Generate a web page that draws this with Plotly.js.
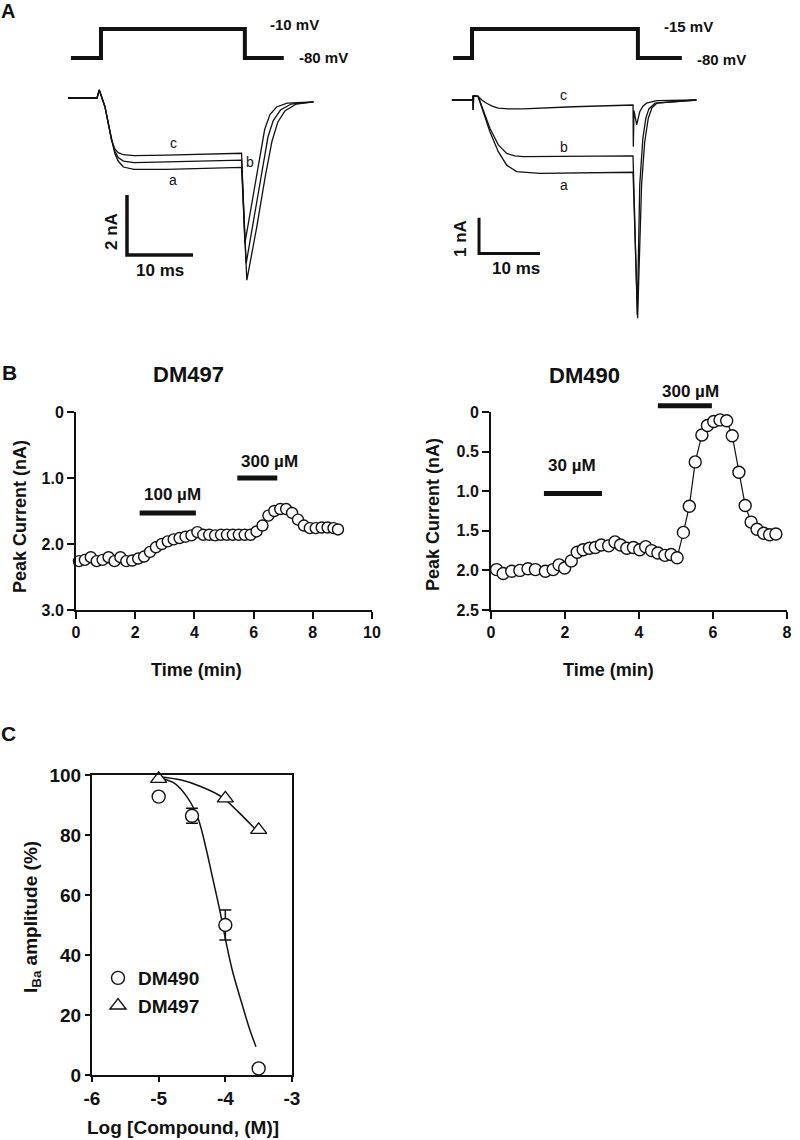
<!DOCTYPE html>
<html>
<head>
<meta charset="utf-8">
<script src="https://cdn.plot.ly/plotly-3.0.1.min.js"></script>
<style>
  html, body { margin: 0; padding: 0; background: #fff; }
  #fig { width: 800px; height: 1140px; }
</style>
</head>
<body>
<div id="fig"></div>
<script>
/* Ba2+ current recordings (A), time courses (B) and concentration-response (C). */

// ---- Panel A: voltage protocols (ms, mV)
const stepLeftT = [-4.55, 0, 0, 21.8, 21.8, 27.7];
const stepLeftV = [-80, -80, -10, -10, -80, -80];
const stepRightT = [-3.1, 0, 0, 27.2, 27.2, 34.4];
const stepRightV = [-80, -80, -15, -15, -80, -80];

// ---- Panel A, left: current traces a, b, c (ms, nA)
const leftA_T = [-5.0, -0.6, -0.26, 0.1, 0.6, 1.1, 1.6, 2.1, 2.6, 3.4, 5, 10, 21.3, 22.1, 23.6, 24.9, 25.9, 26.8, 27.9, 29.6, 32.2];
const leftA_I = [0, 0, 0.27, 0.04, -0.29, -0.84, -1.4, -1.85, -2.1, -2.3, -2.38, -2.38, -2.31, -6.07, -4.3, -2.6, -1.45, -0.8, -0.42, -0.2, -0.13];
const leftB_T = [-5.0, -0.6, -0.26, 0.1, 0.6, 1.1, 1.6, 2.1, 2.6, 3.4, 5, 10, 21.3, 22.0, 23.3, 24.4, 25.3, 26.1, 27.2, 28.8, 32.2];
const leftB_I = [0, 0, 0.27, 0.04, -0.29, -0.84, -1.4, -1.78, -1.98, -2.1, -2.15, -2.13, -2.07, -5.51, -3.8, -2.35, -1.3, -0.75, -0.4, -0.2, -0.13];
const leftC_T = [-5.0, -0.6, -0.26, 0.1, 0.6, 1.1, 1.6, 2.1, 2.6, 3.4, 5, 10, 21.3, 21.8, 23.0, 24.0, 24.8, 25.6, 26.6, 28.2, 32.2];
const leftC_I = [0, 0, 0.27, 0.04, -0.29, -0.84, -1.4, -1.7, -1.82, -1.89, -1.92, -1.9, -1.84, -4.84, -3.3, -1.95, -1.05, -0.55, -0.3, -0.17, -0.13];

// ---- Panel A, right
const rightA_T = [-3.3, 0.1, 0.15, 0.2, 0.25, 1.0, 1.85, 2.95, 4.31, 5.69, 7.3, 11.1, 26.4, 27.15, 27.8, 28.3, 28.9, 29.5, 30.3, 36.8];
const rightA_I = [0, 0, 0.12, -0.28, 0.12, 0.1, -0.33, -0.9, -1.45, -1.83, -2.01, -2.06, -2.03, -6.13, -2.39, -1.2, -0.51, -0.22, -0.09, 0];
const rightB_T = [-3.3, 0.1, 0.15, 0.2, 0.25, 1.0, 1.85, 2.95, 4.31, 5.69, 7.0, 8.4, 26.4, 27.1, 27.5, 28.0, 28.5, 29.0, 30.0, 36.8];
const rightB_I = [0, 0, 0.12, -0.28, 0.12, 0.1, -0.28, -0.8, -1.26, -1.5, -1.57, -1.59, -1.57, -6.04, -2.39, -1.1, -0.51, -0.25, -0.09, 0];
const rightC_T = [-3.3, 0.1, 0.15, 0.2, 0.25, 1.0, 1.6, 2.4, 3.3, 4.3, 6.0, 8.4, 16.6, 26.4, 26.45, 26.55, 27.0, 27.5, 28.0, 28.6, 30.3, 36.8];
const rightC_I = [0, 0, 0.12, -0.28, 0.12, 0.1, 0.0, -0.09, -0.17, -0.23, -0.25, -0.25, -0.19, -0.14, -1.31, -0.3, -0.7, -0.33, -0.18, -0.09, -0.02, 0];

// scale bars: 10 ms / 2 nA (left), 10 ms / 1 nA (right)
const scaleLeftT = [3.94, 3.94, 13.94];
const scaleLeftI = [-3.23, -5.23, -5.23];
const scaleRightT = [1.15, 1.15, 11.15];
const scaleRightI = [-3.31, -4.31, -4.31];

const traceNames = ['c', 'b', 'a'];
const leftLabelT = [10.95, 22.6, 10.95];
const leftLabelI = [-1.51, -2.12, -2.73];
const rightLabelT = [15.0, 15.0, 15.0];
const rightLabelI = [0.14, -1.31, -2.39];

// ---- Panel B: peak current vs time (min, nA)
const dm497Time = [0.1, 0.3, 0.5, 0.7, 0.9, 1.1, 1.3, 1.5, 1.7, 1.9, 2.1, 2.3, 2.5, 2.7, 2.9, 3.1, 3.3, 3.5, 3.7, 3.9,
  4.1, 4.3, 4.5, 4.7, 4.9, 5.1, 5.3, 5.5, 5.7, 5.9, 6.1, 6.3, 6.5, 6.7, 6.9, 7.1, 7.3, 7.5, 7.7, 7.9, 8.1, 8.3, 8.5, 8.7, 8.85];
const dm497Peak = [2.26, 2.24, 2.2, 2.26, 2.24, 2.2, 2.26, 2.2, 2.26, 2.25, 2.22, 2.19, 2.12, 2.05, 2.0, 1.96, 1.93, 1.91, 1.89, 1.87,
  1.82, 1.86, 1.86, 1.87, 1.86, 1.86, 1.86, 1.86, 1.86, 1.86, 1.81, 1.72, 1.57, 1.5, 1.47, 1.47, 1.53, 1.63, 1.72, 1.76, 1.76, 1.75, 1.75, 1.76, 1.78];
const dm497BarStart = [2.15, 5.45];
const dm497BarEnd = [4.05, 6.8];
const dm497BarLevel = [1.53, 1.0];
const dm497Dose = ['100 µM', '300 µM'];

const dm490Time = [0.15, 0.33, 0.56, 0.78, 1.0, 1.2, 1.47, 1.68, 1.84, 1.99, 2.17, 2.33, 2.49, 2.66, 2.82, 2.98, 3.18, 3.35, 3.5, 3.67,
  3.85, 4.02, 4.18, 4.34, 4.51, 4.7, 4.87, 5.03, 5.2, 5.36, 5.52, 5.7, 5.85, 6.02, 6.19, 6.37, 6.52, 6.7, 6.87, 7.03, 7.19, 7.37, 7.53, 7.7];
const dm490Peak = [1.99, 2.04, 2.01, 2.0, 1.98, 1.99, 2.01, 1.99, 1.93, 1.97, 1.88, 1.77, 1.74, 1.72, 1.71, 1.68, 1.69, 1.64, 1.68, 1.72,
  1.71, 1.74, 1.7, 1.75, 1.78, 1.81, 1.8, 1.84, 1.52, 1.19, 0.63, 0.29, 0.17, 0.12, 0.1, 0.11, 0.3, 0.76, 1.18, 1.39, 1.48, 1.53, 1.55, 1.54];
const dm490BarStart = [1.43, 4.51];
const dm490BarEnd = [3.0, 5.97];
const dm490BarLevel = [1.03, -0.08];
const dm490Dose = ['30 µM', '300 µM'];

// ---- Panel C: concentration-response (log M, %)
const dm490LogConc = [-5, -4.5, -4, -3.5];
const dm490Amp = [92.8, 86.4, 50, 2.2];
const dm490Sem = [0, 2.5, 5, 0];
const dm497LogConc = [-5, -4, -3.5];
const dm497Amp = [98.7, 92.2, 81.7];
const dm490FitX = [-5, -4.76, -4.56, -4.41, -4.29, -4.19, -4.09, -3.99, -3.89, -3.76, -3.64, -3.54];
const dm490FitY = [99.1, 97.2, 92.2, 85.6, 75.6, 65.6, 55.6, 44.4, 34.4, 24.4, 15.6, 9.4];
const dm497FitX = [-5, -4.66, -4.36, -4.06, -3.81, -3.56, -3.5];
const dm497FitY = [99.4, 98.3, 96.1, 92.8, 87.8, 82.2, 80.8];

// ------------------------------------------------------------------
const FONT = 'Liberation Sans, Arial, Helvetica, sans-serif';
const INK = '#111111';
const W = 800, H = 1140;
const fx = (p) => p / W;
const fy = (p) => 1 - p / H;
const domX = (a, b) => [fx(a), fx(b)];
const domY = (top, bottom) => [fy(bottom), fy(top)];

const line = (x, y, xa, ya, width) => ({
  x, y, xaxis: xa, yaxis: ya, type: 'scatter', mode: 'lines', showlegend: false,
  hoverinfo: 'skip', line: { color: INK, width },
});

const traces = [
  line(stepLeftT, stepLeftV, 'x', 'y', 4),
  line(stepRightT, stepRightV, 'x3', 'y3', 4),
  line(leftA_T, leftA_I, 'x2', 'y2', 1.3),
  line(leftB_T, leftB_I, 'x2', 'y2', 1.3),
  line(leftC_T, leftC_I, 'x2', 'y2', 1.3),
  line(rightA_T, rightA_I, 'x4', 'y4', 1.3),
  line(rightB_T, rightB_I, 'x4', 'y4', 1.3),
  line(rightC_T, rightC_I, 'x4', 'y4', 1.3),
  line(scaleLeftT, scaleLeftI, 'x2', 'y2', 3.5),
  line(scaleRightT, scaleRightI, 'x4', 'y4', 3),
];

dm497BarStart.forEach((s, i) => {
  traces.push(line([s, dm497BarEnd[i]], [dm497BarLevel[i], dm497BarLevel[i]], 'x5', 'y9', 5));
});
dm490BarStart.forEach((s, i) => {
  traces.push(line([s, dm490BarEnd[i]], [dm490BarLevel[i], dm490BarLevel[i]], 'x6', 'y10', 5));
});

const openMarker = (size, symbol) => ({
  symbol, size, color: '#ffffff', line: { color: INK, width: 1.4 },
});

traces.push({
  x: dm497Time, y: dm497Peak, xaxis: 'x5', yaxis: 'y5', type: 'scatter', mode: 'markers',
  marker: openMarker(11, 'circle'), cliponaxis: false, showlegend: false, hoverinfo: 'skip',
});
traces.push({
  x: dm490Time, y: dm490Peak, xaxis: 'x6', yaxis: 'y6', type: 'scatter', mode: 'lines+markers',
  line: { color: INK, width: 1.2 }, marker: openMarker(12, 'circle'),
  cliponaxis: false, showlegend: false, hoverinfo: 'skip',
});

// panel C
traces.push(Object.assign(line(dm490FitX, dm490FitY, 'x7', 'y7', 1.5), { line: { color: INK, width: 1.5, shape: 'spline' } }));
traces.push(Object.assign(line(dm497FitX, dm497FitY, 'x7', 'y7', 1.5), { line: { color: INK, width: 1.5, shape: 'spline' } }));
traces.push({
  x: dm490LogConc, y: dm490Amp, xaxis: 'x7', yaxis: 'y7', type: 'scatter', mode: 'markers',
  marker: { size: 2, color: 'rgba(0,0,0,0)' }, showlegend: false, hoverinfo: 'skip',
  error_y: { type: 'data', array: dm490Sem, visible: true, color: INK, thickness: 1.5, width: 6 },
});
traces.push({
  x: dm490LogConc, y: dm490Amp, xaxis: 'x7', yaxis: 'y7', type: 'scatter', mode: 'markers',
  name: 'DM490', marker: openMarker(13, 'circle'), cliponaxis: false, hoverinfo: 'skip',
});
traces.push({
  x: dm497LogConc, y: dm497Amp, xaxis: 'x7', yaxis: 'y7', type: 'scatter', mode: 'markers',
  name: 'DM497', marker: openMarker(14, 'triangle-up'), cliponaxis: false, hoverinfo: 'skip',
});

// ---- axes
const hidden = (extra) => Object.assign({ visible: false, fixedrange: true }, extra);
const tickFont = (size) => ({ family: FONT, size, color: INK, weight: 'bold' });
const shown = (size, extra) => Object.assign({
  showline: true, linewidth: 2, linecolor: INK, ticks: 'outside', ticklen: 7, tickwidth: 2,
  tickcolor: INK, showgrid: false, zeroline: false, fixedrange: true, tickfont: tickFont(size),
}, extra);

// ---- text
const note = (x, y, text, size, extra) => Object.assign({
  x: fx(x), y: fy(y), xref: 'paper', yref: 'paper', text, showarrow: false,
  xanchor: 'center', yanchor: 'middle',
  font: { family: FONT, size, color: INK, weight: 'bold' },
}, extra || {});

const annotations = [
  note(8, 11, 'A', 20),
  note(9, 372, 'B', 21),
  note(8, 733, 'C', 21),
  note(268, 25, '-10 mV', 15, { xanchor: 'left' }),
  note(297, 57, '-80 mV', 15, { xanchor: 'left' }),
  note(662, 27, '-15 mV', 15, { xanchor: 'left' }),
  note(695, 59, '-80 mV', 15, { xanchor: 'left' }),
  note(112, 232, '2 nA', 17, { textangle: -90 }),
  note(160, 271, '10 ms', 17),
  note(461, 239, '1 nA', 17, { textangle: -90 }),
  note(516, 269, '10 ms', 17),
  note(188, 374, 'DM497', 22),
  note(584, 375, 'DM490', 22),
  note(20, 517, 'Peak Current (nA)', 18, { textangle: -90 }),
  note(433, 515, 'Peak Current (nA)', 18, { textangle: -90 }),
  note(196, 670, 'Time (min)', 18),
  note(608, 670, 'Time (min)', 18),
  note(183, 1127, 'Log [Compound, (M)]', 19),
  note(32, 917, 'I<sub>Ba</sub> amplitude (%)', 19, { textangle: -90 }),
];

const traceLabel = (x, y, text, xa, ya) => ({
  x, y, xref: xa, yref: ya, text, showarrow: false, xanchor: 'center', yanchor: 'middle',
  font: { family: FONT, size: 14, color: INK, weight: 'normal' },
});
traceNames.forEach((n, i) => {
  annotations.push(traceLabel(leftLabelT[i], leftLabelI[i], n, 'x2', 'y2'));
  annotations.push(traceLabel(rightLabelT[i], rightLabelI[i], n, 'x4', 'y4'));
});

const doseLift497 = [18, 17];
const doseLift490 = [28, 14];
const doseLabel = (x, y, text, xa, ya, lift) => ({
  x, y, xref: xa, yref: ya, text, showarrow: false, xanchor: 'left', yanchor: 'middle',
  xshift: 2, yshift: lift, font: { family: FONT, size: 17, color: INK, weight: 'bold' },
});
dm497Dose.forEach((d, i) => annotations.push(doseLabel(dm497BarStart[i], dm497BarLevel[i], d, 'x5', 'y9', doseLift497[i])));
dm490Dose.forEach((d, i) => annotations.push(doseLabel(dm490BarStart[i], dm490BarLevel[i], d, 'x6', 'y10', doseLift490[i])));

const layout = {
  width: W, height: H,
  margin: { l: 0, r: 0, t: 0, b: 0 },
  paper_bgcolor: '#ffffff', plot_bgcolor: 'rgba(0,0,0,0)',
  font: { family: FONT, color: INK },
  showlegend: true,
  legend: {
    x: fx(98), y: fy(959), xanchor: 'left', yanchor: 'top',
    bgcolor: 'rgba(0,0,0,0)', borderwidth: 0,
    font: { family: FONT, size: 19, color: INK, weight: 'bold' },
    itemclick: false, itemdoubleclick: false,
  },
  // A, left
  xaxis: hidden({ domain: domX(60, 330), range: [-6.21, 34.7], anchor: 'y' }),
  yaxis: hidden({ domain: domY(15, 70), range: [-109, 23.8], anchor: 'x' }),
  xaxis2: hidden({ domain: domX(60, 330), range: [-6.21, 34.7], anchor: 'y2' }),
  yaxis2: hidden({ domain: domY(80, 330), range: [-7.73, 0.6], anchor: 'x2' }),
  // A, right
  xaxis3: hidden({ domain: domX(440, 710), range: [-5.25, 39.02], anchor: 'y3' }),
  yaxis3: hidden({ domain: domY(15, 70), range: [-106.9, 16.4], anchor: 'x3' }),
  xaxis4: hidden({ domain: domX(440, 710), range: [-5.25, 39.02], anchor: 'y4' }),
  yaxis4: hidden({ domain: domY(80, 330), range: [-6.46, 0.562], anchor: 'x4' }),
  // B, DM497
  xaxis5: shown(16, { domain: domX(76, 372), range: [0, 10], tickvals: [0, 2, 4, 6, 8, 10], anchor: 'y5' }),
  yaxis5: shown(16, {
    domain: domY(412, 610), range: [3, 0], tickvals: [0, 1, 2, 3],
    ticktext: ['0', '1.0', '2.0', '3.0'], anchor: 'x5',
  }),
  yaxis9: hidden({ domain: domY(380, 610), range: [3, -0.485], anchor: 'x5' }),
  // B, DM490
  xaxis6: shown(16, { domain: domX(491, 787), range: [0, 8], tickvals: [0, 2, 4, 6, 8], anchor: 'y6' }),
  yaxis6: shown(16, {
    domain: domY(412, 610), range: [2.5, 0], tickvals: [0, 0.5, 1, 1.5, 2, 2.5],
    ticktext: ['0', '0.5', '1.0', '1.5', '2.0', '2.5'], anchor: 'x6',
  }),
  yaxis10: hidden({ domain: domY(380, 610), range: [2.5, -0.405], anchor: 'x6' }),
  // C
  xaxis7: shown(19, {
    domain: domX(92, 292), range: [-6, -3], tickvals: [-6, -5, -4, -3],
    ticktext: ['-6', '-5', '-4', '-3'], ticklen: 5, mirror: true, anchor: 'y7',
  }),
  yaxis7: shown(19, {
    domain: domY(775, 1075), range: [0, 100], tickvals: [0, 20, 40, 60, 80, 100],
    ticklen: 5, mirror: true, anchor: 'x7',
  }),
  yaxis8: {
    overlaying: 'y7', side: 'right', anchor: 'x7', range: [0, 100], fixedrange: true,
    tickvals: [20, 40, 60, 80], ticks: 'inside', ticklen: 5, tickwidth: 2, tickcolor: INK,
    showticklabels: false, showline: false, showgrid: false, zeroline: false,
  },
  annotations,
};

Plotly.newPlot('fig', traces, layout, { staticPlot: true, displayModeBar: false });
</script>
</body>
</html>
